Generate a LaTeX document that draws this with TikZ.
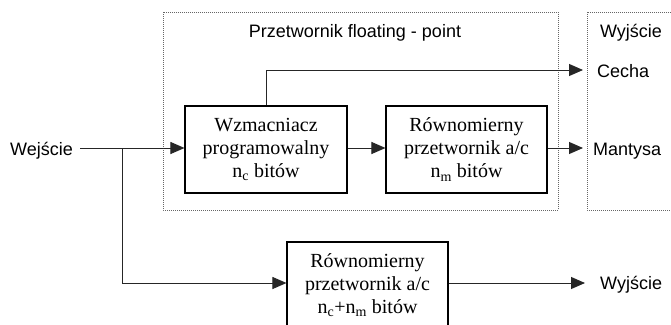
\documentclass[tikz,border=0pt]{standalone}
\usepackage{fontspec}
\setmainfont{Liberation Serif}
\setsansfont{Liberation Sans}
\usetikzlibrary{arrows.meta}
\begin{document}
\begin{tikzpicture}[x=1pt,y=-1pt,
  lbl/.style={font=\sffamily\fontsize{18}{20}\selectfont, inner sep=0pt},
  blockbox/.style={draw=black, line width=1.1pt, minimum width=162pt, minimum height=87pt, align=center,
     font=\rmfamily\fontsize{20}{23}\selectfont, inner sep=0pt},
  arr/.style={draw=black!85, line width=1pt, -{Triangle[length=14pt,width=12pt]}},
  ln/.style={draw=black!85, line width=1pt},
  frame/.style={draw=black!60, line width=0.6pt, dash pattern=on 0.8pt off 1.2pt}]
\clip (0,0) rectangle (671,324);
\fill[white] (0,0) rectangle (671,324);
% frames
\draw[frame] (163,12) rectangle (558,210);
\draw[frame] (587,12) rectangle (690,210);
\node[lbl] (title) at (355,33) {Przetwornik floating - point};
\node[lbl] (wyj1) at (631,33) {Wyjście};
% blocks
\node[blockbox] (b1) at (266,149.5) {Wzmacniacz\\programowalny\\n\textsubscript{c} bitów};
\node[blockbox, minimum width=161pt] (b2) at (466.5,149.5) {Równomierny\\przetwornik a/c\\n\textsubscript{m} bitów};
\node[blockbox, minimum width=161pt] (b3) at (367.5,285.5) {Równomierny\\przetwornik a/c\\n\textsubscript{c}+n\textsubscript{m} bitów};
% labels
\node[lbl, anchor=west] (in) at (10,151) {Wejście};
\node[lbl, anchor=west] (cecha) at (597,71) {Cecha};
\node[lbl, anchor=west] (mant) at (593,151) {Mantysa};
\node[lbl, anchor=west] (wyj2) at (600,285) {Wyjście};
% connectors
\coordinate (inend) at (80,148);
\coordinate (br) at (122,148);
\coordinate (cechaend) at (583,70);
\coordinate (mantend) at (583,148);
\coordinate (wyjend) at (585,283);
\draw[ln] (inend) -- (br);
\draw[arr] (br) -- (b1.west |- br);
\draw[arr] (br) |- (b3.west |- wyjend);
\draw[arr] (b1.east |- br) -- (b2.west |- br);
\draw[arr] (b2.east |- br) -- (mantend);
\draw[arr] (b1.north) |- (cechaend);
\draw[arr] (b3.east |- wyjend) -- (wyjend);
\end{tikzpicture}
\end{document}
